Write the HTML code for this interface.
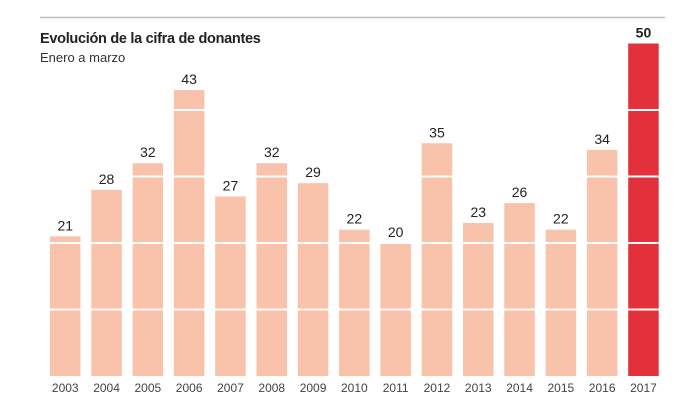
<!DOCTYPE html><html><head><style>body{margin:0;background:#fff}svg{display:block}</style></head><body>
<svg width="678" height="400" xmlns="http://www.w3.org/2000/svg" font-family="Liberation Sans, sans-serif">
<rect width="678" height="400" fill="#fff"/>
<line x1="40" y1="17.5" x2="665" y2="17.5" stroke="#bbb" stroke-width="1.5"/>
<text x="40" y="43" font-size="14.5" font-weight="bold" fill="#222" letter-spacing="-0.3">Evolución de la cifra de donantes</text>
<text x="40" y="62" font-size="13" fill="#333">Enero a marzo</text>
<g fill="#f9c2ab">
<rect x="50" y="236.35" width="30.5" height="139.65"/>
<rect x="91.3" y="189.8" width="30.5" height="186.2"/>
<rect x="132.6" y="163.2" width="30.5" height="212.8"/>
<rect x="173.9" y="90.05" width="30.5" height="285.95"/>
<rect x="215.2" y="196.45" width="30.5" height="179.55"/>
<rect x="256.5" y="163.2" width="30.5" height="212.8"/>
<rect x="297.8" y="183.15" width="30.5" height="192.85"/>
<rect x="339.1" y="229.7" width="30.5" height="146.3"/>
<rect x="380.4" y="243" width="30.5" height="133"/>
<rect x="421.7" y="143.25" width="30.5" height="232.75"/>
<rect x="463" y="223.05" width="30.5" height="152.95"/>
<rect x="504.3" y="203.1" width="30.5" height="172.9"/>
<rect x="545.6" y="229.7" width="30.5" height="146.3"/>
<rect x="586.9" y="149.9" width="30.5" height="226.1"/>
</g>
<rect x="628.2" y="43.5" width="30.5" height="332.5" fill="#e3313c"/>
<g fill="#fff">
<rect x="40" y="308.5" width="630" height="2"/>
<rect x="40" y="242" width="630" height="2"/>
<rect x="40" y="175.5" width="630" height="2"/>
<rect x="40" y="109" width="630" height="2"/>
</g>
<g font-size="14" text-anchor="middle" fill="#222">
<text x="65.25" y="230.35">21</text>
<text x="106.55" y="183.8">28</text>
<text x="147.85" y="157.2">32</text>
<text x="189.15" y="84.05">43</text>
<text x="230.45" y="190.45">27</text>
<text x="271.75" y="157.2">32</text>
<text x="313.05" y="177.15">29</text>
<text x="354.35" y="223.7">22</text>
<text x="395.65" y="237">20</text>
<text x="436.95" y="137.25">35</text>
<text x="478.25" y="217.05">23</text>
<text x="519.55" y="197.1">26</text>
<text x="560.85" y="223.7">22</text>
<text x="602.15" y="143.9">34</text>
<text x="643.45" y="37.5" font-weight="bold">50</text>
</g>
<g font-size="12" text-anchor="middle" fill="#444">
<text x="65.25" y="392">2003</text>
<text x="106.55" y="392">2004</text>
<text x="147.85" y="392">2005</text>
<text x="189.15" y="392">2006</text>
<text x="230.45" y="392">2007</text>
<text x="271.75" y="392">2008</text>
<text x="313.05" y="392">2009</text>
<text x="354.35" y="392">2010</text>
<text x="395.65" y="392">2011</text>
<text x="436.95" y="392">2012</text>
<text x="478.25" y="392">2013</text>
<text x="519.55" y="392">2014</text>
<text x="560.85" y="392">2015</text>
<text x="602.15" y="392">2016</text>
<text x="643.45" y="392">2017</text>
</g>
</svg></body></html>
